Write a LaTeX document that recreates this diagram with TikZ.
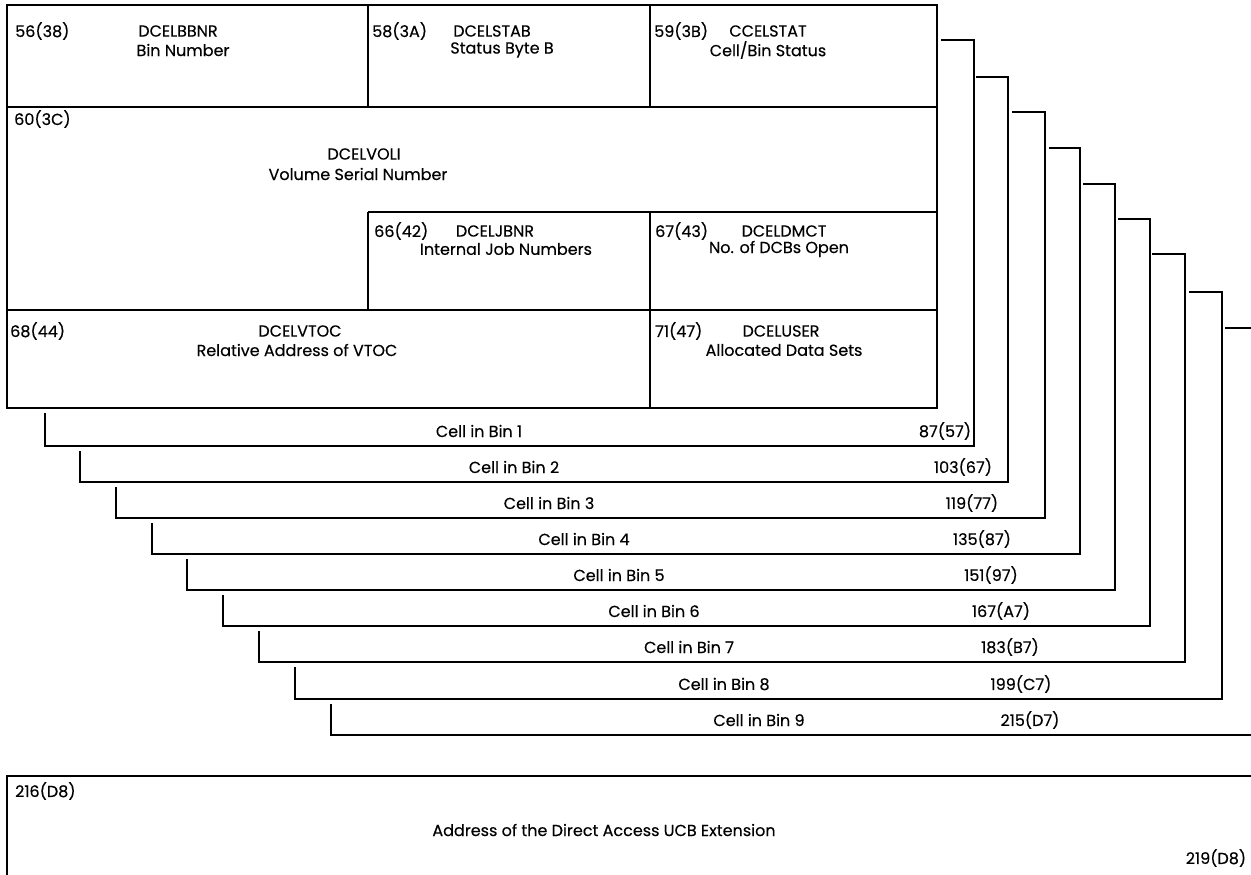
\documentclass[tikz,border=0pt]{standalone}
\usepackage{fontspec}
\setmainfont[FakeBold=0.3]{Poppins}
\begin{document}
\begin{tikzpicture}[x=1pt,y=-1pt,
  font=\fontsize{16}{19}\selectfont,
  heavy/.style={line width=2.6pt},
  light/.style={line width=1.6pt},
  txt/.style={inner sep=0pt},
  offs/.style={anchor=west,inner sep=0pt}]
\useasboundingbox (0,0) rectangle (1251,875);
% main record box
\draw[light] (7,107) -- (937,107);
\draw[light] (368,5) -- (368,107);
\draw[light] (650,5) -- (650,107);
\draw[light] (368,212) -- (937,212);
\draw[light] (368,212) -- (368,310);
\draw[light] (650,212) -- (650,408);
\draw[light] (7,310) -- (937,310);
\draw[heavy] (7,5) rectangle (937,408);
% row 1
\node[offs] (o1) at (15,31) {56(38)};
\node[txt] (n1) at (178,31) {DCELBBNR};
\node[txt] (d1) at (183,50) {Bin Number};
\node[offs] (o2) at (372,31) {58(3A)};
\node[txt] (n2) at (492,31) {DCELSTAB};
\node[txt] (d2) at (502,50) {Status Byte B};
\node[offs] (o3) at (654,31) {59(3B)};
\node[txt] (n3) at (768,31) {CCELSTAT};
\node[txt] (d3) at (768,50) {Cell/Bin Status};
% row 2
\node[offs] (o4) at (14,119) {60(3C)};
\node[txt] (n4) at (364,154) {DCELVOLI};
\node[txt] (d4) at (358,174) {Volume Serial Number};
% row 3
\node[offs] (o5) at (374,231) {66(42)};
\node[txt] (n5) at (495,231) {DCELJBNR};
\node[txt] (d5) at (506,249) {Internal Job Numbers};
\node[offs] (o6) at (655,231) {67(43)};
\node[txt] (n6) at (784,231) {DCELDMCT};
\node[txt] (d6) at (779,249) {No. of DCBs Open};
% row 4
\node[offs] (o7) at (10,331) {68(44)};
\node[txt] (n7) at (300,331) {DCELVTOC};
\node[txt] (d7) at (297,350) {Relative Address of VTOC};
\node[offs] (o8) at (655,331) {71(47)};
\node[txt] (n8) at (781,331) {DCELUSER};
\node[txt] (d8) at (784,350) {Allocated Data Sets};
% stacked cells
\foreach \k/\xl/\tk/\B/\X/\T/\S/\ox/\ot in {
  1/45/413/446/974/40/941/945/87(57),
  2/80/451/482/1008/77/976/963/103(67),
  3/116/487/518/1045/112/1012/972/119(77),
  4/152/523/554/1080/148/1049/982/135(87),
  5/187/559/590/1115/184/1083/991/151(97),
  6/223/595/626/1150/219/1118/1001/167(A7),
  7/259/631/662/1185/254/1152/1010/183(B7),
  8/295/667/699/1222/292/1189/1021/199(C7),
  9/331/704/735/1262/328/1225/1030/215(D7)}{
  \draw[heavy] (\S,\T) -- (\X,\T) -- (\X,\B) -- (\xl,\B) -- (\xl,\tk);
  \node[txt] (cell\k) at ({479+35*(\k-1)},{\B-15}) {Cell in Bin \k};
  \node[txt] (end\k) at (\ox,{\B-15}) {\ot};
}
% UCB extension box
\draw[heavy] (1262,776) -- (7,776) -- (7,880);
\node[offs] (u1) at (15,791) {216(D8)};
\node[txt] (u2) at (604,830) {Address of the Direct Access UCB Extension};
\node[txt] (u3) at (1216,858) {219(D8)};
\end{tikzpicture}
\end{document}
